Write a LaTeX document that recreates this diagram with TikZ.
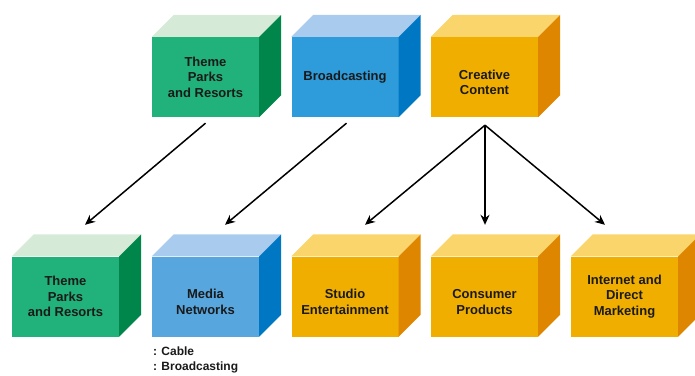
\documentclass[tikz,border=0pt]{standalone}
\usepackage{fontspec}
\setmainfont{Liberation Sans}
\usetikzlibrary{calc,arrows.meta}

% face colours
\definecolor{grnfront}{HTML}{20B27A}
\definecolor{grntop}{HTML}{D6EBD7}
\definecolor{grnside}{HTML}{00854A}
\definecolor{bluefront}{HTML}{2E9BDA}
\definecolor{bluelight}{HTML}{57A6DE}
\definecolor{bluetop}{HTML}{A9CCEE}
\definecolor{blueside}{HTML}{0077C2}
\definecolor{orgfront}{HTML}{F0AE00}
\definecolor{orgtop}{HTML}{FAD56B}
\definecolor{orgside}{HTML}{DE8600}
\definecolor{txt}{HTML}{1A1A1A}

% top and right faces of a box drawn round the front node
\newcommand{\cubefaces}[3]{%
  \fill[#2] (#1.north west) -- ++(22,-22) -- ([shift={(22,-22)}]#1.north east) -- (#1.north east) -- cycle;
  \fill[#3] (#1.north east) -- ++(22,-22) -- ([shift={(22,-22)}]#1.south east) -- (#1.south east) -- cycle;}

\begin{document}
\begin{tikzpicture}[x=1pt,y=-1pt]
		% Define styles
		\tikzset{lbl/.style={inner sep=0pt, align=center, text=txt, font=\fontsize{13}{15.4}\selectfont\bfseries},
			front/.style={lbl, minimum width=107pt, minimum height=80pt},
			low/.style={label={[lbl, yshift=-5.5pt]center:{#1}}},
			arr/.style={-{Stealth[length=10pt,width=9pt]}, line width=1.5pt}}
		
		\useasboundingbox (0,0) rectangle (695,375);
		
		% Top row
		\node[front, fill=grnfront] (tpA) at (205.5,77) {Theme\\Parks\\and Resorts};
		\node[front, fill=bluefront] (brA) at (345,77) {Broadcasting};
		\node[front, fill=orgfront, low={Creative\\Content}] (cc) at (484.5,77) {};
		\cubefaces{tpA}{grntop}{grnside}
		\cubefaces{brA}{bluetop}{blueside}
		\cubefaces{cc}{orgtop}{orgside}
		
		% Bottom row
		\node[front, fill=grnfront] (tpB) at (65.5,296.5) {Theme\\Parks\\and Resorts};
		\node[front, fill=bluelight, low={Media\\Networks}] (mn) at (205.5,296.5) {};
		\node[front, fill=orgfront, low={Studio\\Entertainment}] (se) at (345,296.5) {};
		\node[front, fill=orgfront, low={Consumer\\Products}] (cp) at (484.5,296.5) {};
		\node[front, fill=orgfront] (idm) at (624.5,296.5) {Internet and\\Direct\\Marketing};
		\cubefaces{tpB}{grntop}{grnside}
		\cubefaces{mn}{bluetop}{blueside}
		\cubefaces{se}{orgtop}{orgside}
		\cubefaces{cp}{orgtop}{orgside}
		\cubefaces{idm}{orgtop}{orgside}
		
		% Note under Media Networks
		\node[anchor=north west, inner sep=0pt, align=left, text=txt, font=\fontsize{12}{15}\selectfont\bfseries] (mnnote) at ([shift={(1,10)}]mn.south west) {: Cable\\: Broadcasting};
		
		% Arrows
		\draw[arr] ([shift={(0,6)}]tpA.south) -- ([shift={(19.5,-31.5)}]tpB.north);
		\draw[arr] ([shift={(1.5,6)}]brA.south) -- ([shift={(19.5,-31.5)}]mn.north);
		\draw[arr] ([shift={(0.5,8)}]cc.south) -- ([shift={(20,-31.5)}]se.north);
		\draw[arr] ([shift={(0.5,8)}]cc.south) -- ([shift={(0.5,-31.5)}]cp.north);
		\draw[arr] ([shift={(0.5,8)}]cc.south) -- ([shift={(-19.5,-31.5)}]idm.north);
	\end{tikzpicture}
\end{document}
